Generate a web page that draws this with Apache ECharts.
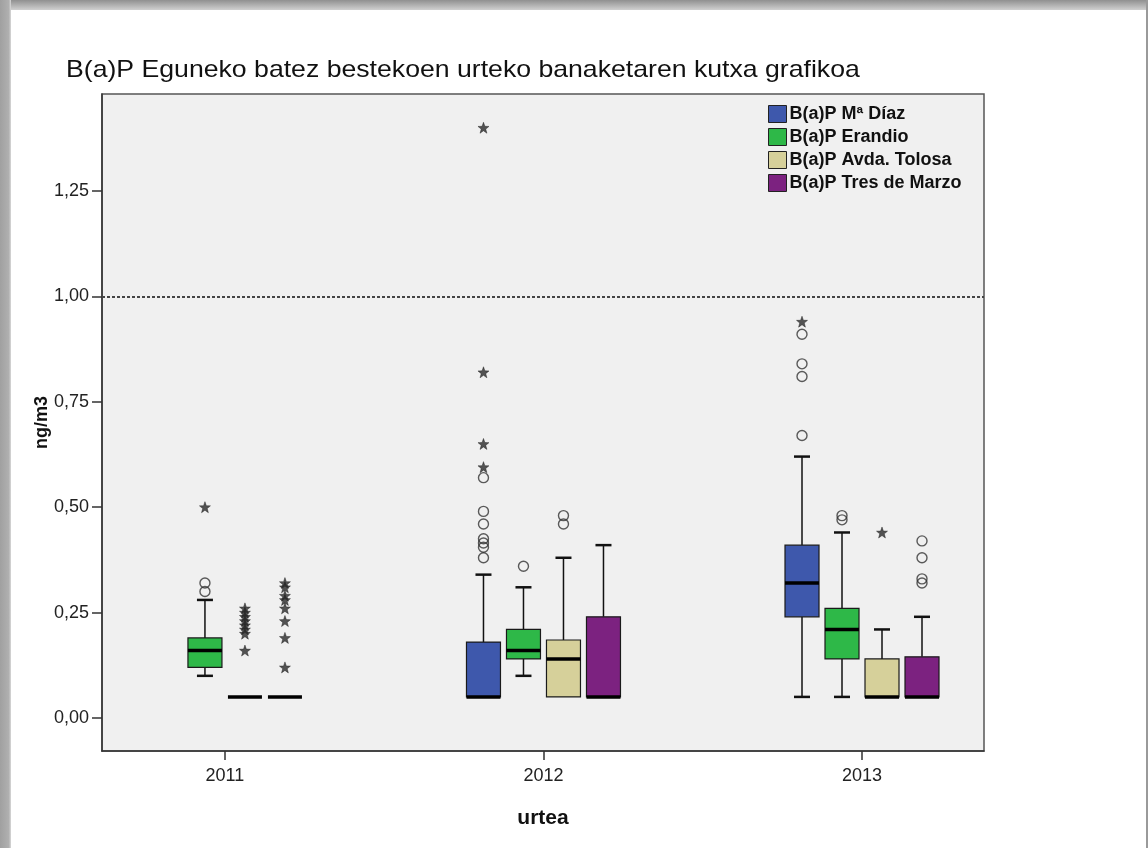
<!DOCTYPE html>
<html>
<head>
<meta charset="utf-8">
<script src="https://cdn.jsdelivr.net/npm/echarts@6/dist/echarts.min.js"></script>
<style>
  html, body { margin: 0; padding: 0; background: #ffffff; }
  #chart { width: 1148px; height: 848px; }
</style>
</head>
<body>
<div id="chart"></div>
<script>
// Years shown on the horizontal axis
const years = [2011, 2012, 2013];
const yTicks = [0, 0.25, 0.5, 0.75, 1.0, 1.25];
const limitValue = 1.0;

const seriesNames = ['B(a)P Mª Díaz', 'B(a)P Erandio', 'B(a)P Avda. Tolosa', 'B(a)P Tres de Marzo'];

// Box statistics per year: [lower whisker, Q1, median, Q3, upper whisker]
const diazBox    = [null, [0.05, 0.05, 0.05, 0.18, 0.34], [0.05, 0.24, 0.32, 0.41, 0.62]];
const erandioBox = [[0.10, 0.12, 0.16, 0.19, 0.28], [0.10, 0.14, 0.16, 0.21, 0.31], [0.05, 0.14, 0.21, 0.26, 0.44]];
const tolosaBox  = [[0.05, 0.05, 0.05, 0.05, 0.05], [0.05, 0.05, 0.14, 0.185, 0.38], [0.05, 0.05, 0.05, 0.14, 0.21]];
const marzoBox   = [[0.05, 0.05, 0.05, 0.05, 0.05], [0.05, 0.05, 0.05, 0.24, 0.41], [0.05, 0.05, 0.05, 0.145, 0.24]];

// Outliers (circles) per year
const diazOut    = [[], [0.57, 0.49, 0.46, 0.425, 0.415, 0.405, 0.38], [0.91, 0.84, 0.81, 0.67]];
const erandioOut = [[0.32, 0.30], [0.36], [0.48, 0.47]];
const tolosaOut  = [[], [0.48, 0.46], []];
const marzoOut   = [[], [], [0.42, 0.38, 0.33, 0.32]];

// Extreme values (stars) per year
const diazExt    = [[], [1.40, 0.82, 0.65, 0.595], [0.94]];
const erandioExt = [[0.50], [], []];
const tolosaExt  = [[0.26, 0.25, 0.24, 0.23, 0.22, 0.21, 0.20, 0.16], [], [0.44]];
const marzoExt   = [[0.32, 0.31, 0.29, 0.28, 0.26, 0.23, 0.19, 0.12], [], []];

const colors = ['#3E58AC', '#2EB848', '#D6D09A', '#7C2280'];
const boxes = [diazBox, erandioBox, tolosaBox, marzoBox];
const outs = [diazOut, erandioOut, tolosaOut, marzoOut];
const exts = [diazExt, erandioExt, tolosaExt, marzoExt];

const FONT = 'Liberation Sans, Arial, sans-serif';
const SLOT = 40;      // horizontal spacing between boxes in a year group (px)
const BOX_W = 34;     // box width (px)
const CAP_W = 16;     // whisker cap width (px)
const slotOffset = i => (i - 1.5) * SLOT;

const starPath = 'path://M0,-10L2.4,-3.3L9.5,-3.1L3.9,1.3L5.9,8.1L0,4.1L-5.9,8.1L-3.9,1.3L-9.5,-3.1L-2.4,-3.3Z';

function boxRenderer(si) {
  return function (params, api) {
    const yr = api.value(0);
    const lo = api.value(1), q1 = api.value(2), md = api.value(3), q3 = api.value(4), hi = api.value(5);
    const off = slotOffset(si);
    const px = v => api.coord([yr, v]);
    const cx = px(lo)[0] + off;
    const yLo = px(lo)[1], yQ1 = px(q1)[1], yMd = px(md)[1], yQ3 = px(q3)[1], yHi = px(hi)[1];
    const children = [];
    const lineStyle = { stroke: '#111', lineWidth: 1.5 };
    const capStyle = { stroke: '#111', lineWidth: 2.5 };
    if (hi > q3) {
      children.push({ type: 'line', shape: { x1: cx, y1: yQ3, x2: cx, y2: yHi }, style: lineStyle });
      children.push({ type: 'line', shape: { x1: cx - CAP_W / 2, y1: yHi, x2: cx + CAP_W / 2, y2: yHi }, style: capStyle });
    }
    if (lo < q1) {
      children.push({ type: 'line', shape: { x1: cx, y1: yQ1, x2: cx, y2: yLo }, style: lineStyle });
      children.push({ type: 'line', shape: { x1: cx - CAP_W / 2, y1: yLo, x2: cx + CAP_W / 2, y2: yLo }, style: capStyle });
    }
    if (q3 > q1) {
      children.push({
        type: 'rect',
        shape: { x: cx - BOX_W / 2, y: yQ3, width: BOX_W, height: yQ1 - yQ3 },
        style: { fill: colors[si], stroke: '#1a1a1a', lineWidth: 1.2 }
      });
    }
    children.push({
      type: 'line',
      shape: { x1: cx - BOX_W / 2, y1: yMd, x2: cx + BOX_W / 2, y2: yMd },
      style: { stroke: '#000', lineWidth: 3.5 }
    });
    return { type: 'group', children: children };
  };
}

const series = [];
boxes.forEach((b, si) => {
  const data = [];
  b.forEach((s, yi) => { if (s) data.push([years[yi]].concat(s)); });
  series.push({
    name: seriesNames[si],
    type: 'custom',
    renderItem: boxRenderer(si),
    itemStyle: { color: colors[si] },
    encode: { x: 0, y: [1, 2, 3, 4, 5] },
    data: data,
    z: 3,
    markLine: si === 0 ? {
      silent: true,
      symbol: 'none',
      label: { show: false },
      lineStyle: { color: '#444', type: [3, 2], width: 2 },
      data: [{ yAxis: limitValue }]
    } : undefined
  });
});
outs.forEach((o, si) => {
  const data = [];
  o.forEach((vals, yi) => vals.forEach(v => data.push([years[yi], v])));
  series.push({
    type: 'scatter',
    symbol: 'circle',
    symbolSize: 10,
    symbolOffset: [slotOffset(si), 0],
    itemStyle: { color: 'rgba(0,0,0,0)', borderColor: '#333', borderWidth: 1.4 },
    data: data,
    z: 4,
    silent: true
  });
});
exts.forEach((e, si) => {
  const data = [];
  e.forEach((vals, yi) => vals.forEach(v => data.push([years[yi], v])));
  series.push({
    type: 'scatter',
    symbol: starPath,
    symbolSize: 11,
    symbolOffset: [slotOffset(si), 0],
    itemStyle: { color: '#2a2a2a', borderColor: '#111', borderWidth: 0.5 },
    data: data,
    z: 4,
    silent: true
  });
});

const chart = echarts.init(document.getElementById('chart'), null, { renderer: 'canvas' });
chart.setOption({
  animation: false,
  backgroundColor: '#ffffff',
  textStyle: { fontFamily: FONT },
  graphic: [
    { type: 'rect', left: 0, top: 0, shape: { width: 1148, height: 10 },
      style: { fill: new echarts.graphic.LinearGradient(0, 0, 0, 1, [{ offset: 0, color: '#909090' }, { offset: 1, color: '#d0d0d0' }]) }, z: 100 },
    { type: 'rect', left: 0, top: 0, shape: { width: 11, height: 848 },
      style: { fill: new echarts.graphic.LinearGradient(0, 0, 1, 0, [{ offset: 0, color: '#a0a0a0' }, { offset: 0.8, color: '#b0b0b0' }, { offset: 1, color: '#d8d8d8' }]) }, z: 100 },
    { type: 'rect', left: 1146, top: 0, shape: { width: 2, height: 848 },
      style: { fill: '#9a9a9a' }, z: 100 },
    // Chart title, slightly widened
    { type: 'text', x: 66, y: 58, scaleX: 1.11,
      style: { text: 'B(a)P Eguneko batez bestekoen urteko banaketaren kutxa grafikoa', font: '24px ' + FONT, fill: '#111' }, z: 100 }
  ],
  legend: {
    orient: 'vertical',
    left: 763, top: 100,
    itemWidth: 18, itemHeight: 17, itemGap: 5,
    icon: 'rect',
    selectedMode: false,
    textStyle: { fontSize: 18, fontWeight: 'bold', color: '#111', fontFamily: FONT, padding: [0, 0, 0, -2] },
    data: seriesNames.map((n, i) => ({ name: n, itemStyle: { color: colors[i], borderColor: '#222', borderWidth: 1 } }))
  },
  grid: {
    left: 102, top: 94, right: 164, bottom: 97,
    show: true, backgroundColor: '#f0f0f0', borderColor: '#555', borderWidth: 1.5
  },
  xAxis: {
    type: 'value',
    min: 2010.614, max: 2013.383,
    name: 'urtea',
    nameLocation: 'middle',
    nameGap: 57,
    nameMoveOverlap: false,
    nameTextStyle: { fontSize: 21, fontWeight: 'bold', color: '#111' },
    splitLine: { show: false },
    axisLine: { onZero: false, lineStyle: { color: '#333', width: 1.5 } },
    axisTick: { show: true, length: 9, customValues: years, lineStyle: { color: '#333', width: 1.5 } },
    axisLabel: { customValues: years, margin: 16, fontSize: 18, color: '#222', formatter: v => String(v) }
  },
  yAxis: {
    type: 'value',
    min: -0.0783, max: 1.480,
    name: 'ng/m3',
    nameLocation: 'middle',
    nameGap: 51,
    nameMoveOverlap: false,
    nameTextStyle: { fontSize: 18, fontWeight: 'bold', color: '#111' },
    splitLine: { show: false },
    axisLine: { show: true, onZero: false, lineStyle: { color: '#333', width: 1.5 } },
    axisTick: { show: true, length: 10, customValues: yTicks, lineStyle: { color: '#333', width: 1.5 } },
    axisLabel: { customValues: yTicks, margin: 13, fontSize: 18, color: '#222', formatter: v => v.toFixed(2).replace('.', ',') }
  },
  series: series
});
</script>
</body>
</html>
